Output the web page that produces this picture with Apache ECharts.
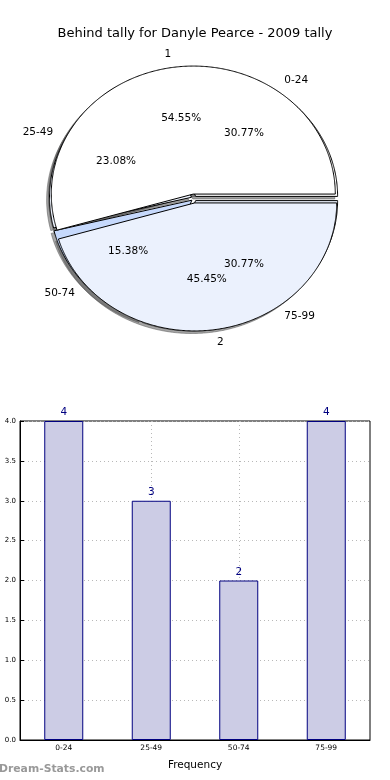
<!DOCTYPE html>
<html>
<head>
<meta charset="utf-8">
<script src="https://cdn.jsdelivr.net/npm/echarts@6/dist/echarts.min.js"></script>
<style>
html,body{margin:0;padding:0;background:#fff;}
#main{width:390px;height:780px;}
</style>
</head>
<body>
<div id="main"></div>
<script>
// ---- data ----
const titleText = 'Behind tally for Danyle Pearce - 2009 tally';
const outerCategories = ['0-24', '25-49', '50-74', '75-99'];
const outerValues = [4, 3, 2, 4];
const innerCategories = ['1', '2'];
const innerValues = [6, 5];
const barCategories = ['0-24', '25-49', '50-74', '75-99'];
const barValues = [4, 3, 2, 4];
const yTickMin = 0, yTickMax = 4, yTickStep = 0.5;
const xAxisTitle = 'Frequency';
const watermark = 'Dream-Stats.com';

// ---- styles ----
const outerColors = ['#ffffff', '#eef3fd', '#c6d9fc', '#eaf0fc'];
const innerColors = ['#ffffff', '#ebf1fd'];
const outerExplode = 0.02;
const innerExplode = 0.035;
const FONT = "'DejaVu Sans', sans-serif";

function sliceGeom(values, i, explode) {
  const total = values.reduce((a, b) => a + b, 0);
  let acc = 0;
  for (let k = 0; k < i; k++) acc += values[k];
  const t1 = acc / total * 2 * Math.PI;
  const t2 = (acc + values[i]) / total * 2 * Math.PI;
  const tm = (t1 + t2) / 2;
  return { t1, t2, tm, cx: explode * Math.cos(tm), cy: explode * Math.sin(tm), pct: values[i] / total * 100 };
}
function wedgePoints(api, g, dx, dy) {
  const pts = [api.coord([g.cx + dx, g.cy + dy])];
  const n = Math.max(2, Math.ceil((g.t2 - g.t1) / (Math.PI / 360)));
  for (let k = 0; k <= n; k++) {
    const t = g.t1 + (g.t2 - g.t1) * k / n;
    pts.push(api.coord([g.cx + dx + Math.cos(t), g.cy + dy + Math.sin(t)]));
  }
  return pts;
}

function pieLayer(values, labels, colors, explode, layer, z) {
  return {
    type: 'custom',
    xAxisIndex: 0, yAxisIndex: 0,
    z: z,
    silent: true,
    clip: false,
    animation: false,
    data: values.map((v, i) => [i, v]),
    encode: { x: 0, y: 1 },
    renderItem: function (params, api) {
      const i = params.dataIndex;
      const g = sliceGeom(values, i, explode);
      if (layer === 'shadow') {
        return {
          type: 'polygon',
          shape: { points: wedgePoints(api, g, -0.02, -0.02) },
          style: { fill: 'rgba(77,77,77,0.5)', stroke: 'rgba(77,77,77,0.5)', lineWidth: 1 }
        };
      }
      if (layer === 'wedge') {
        return {
          type: 'polygon',
          shape: { points: wedgePoints(api, g, 0, 0) },
          style: { fill: colors[i], stroke: '#000', lineWidth: 1, lineJoin: 'miter' }
        };
      }
      // labels
      const lx = g.cx + 1.1 * Math.cos(g.tm);
      const ly = g.cy + 1.1 * Math.sin(g.tm);
      const lp = api.coord([lx, ly]);
      const px = g.cx + 0.6 * Math.cos(g.tm);
      const py = g.cy + 0.6 * Math.sin(g.tm);
      const pp = api.coord([px, py]);
      return {
        type: 'group',
        children: [
          { type: 'text', x: lp[0], y: lp[1],
            style: { text: labels[i], fill: '#000', fontSize: 10.5, fontFamily: FONT,
                     align: lx > 0 ? 'left' : 'right', verticalAlign: 'middle' } },
          { type: 'text', x: pp[0], y: pp[1],
            style: { text: g.pct.toFixed(2) + '%', fill: '#000', fontSize: 10.5, fontFamily: FONT,
                     align: 'center', verticalAlign: 'middle' } }
        ]
      };
    }
  };
}

const chart = echarts.init(document.getElementById('main'), null, { renderer: 'canvas' });
chart.setOption({
  animation: false,
  backgroundColor: '#fff',
  title: {
    text: titleText, left: 'center', top: 22,
    textStyle: { fontSize: 13, fontWeight: 'normal', fontFamily: FONT, color: '#000' }
  },
  graphic: [{
    type: 'text', left: -1, top: 764,
    style: { text: watermark, fill: '#999', font: "bold 10.8px 'DejaVu Sans', sans-serif" }
  }],
  grid: [
    { left: 52, top: 70.5, width: 284, height: 256, show: false },
    { left: 20, top: 421, width: 350, height: 319, show: true, borderColor: '#000', borderWidth: 1, backgroundColor: 'transparent' }
  ],
  xAxis: [
    { type: 'value', gridIndex: 0, min: -1, max: 1, show: false },
    { type: 'category', gridIndex: 1, data: barCategories,
      axisLine: { lineStyle: { color: '#000' } },
      axisTick: { alignWithLabel: true, inside: true, length: 4, lineStyle: { color: '#000' } },
      axisLabel: { fontSize: 7.5, color: '#000', fontFamily: FONT, margin: 4 },
      splitLine: { show: true, alignWithLabel: true, lineStyle: { color: '#b8b8b8', type: [1, 3], width: 1 } },
      name: xAxisTitle, nameLocation: 'middle', nameGap: 20,
      nameTextStyle: { fontSize: 10.5, color: '#000', fontFamily: FONT }
    }
  ],
  yAxis: [
    { type: 'value', gridIndex: 0, min: -1, max: 1, show: false },
    { type: 'value', gridIndex: 1, min: yTickMin, max: yTickMax, interval: yTickStep,
      axisLine: { show: true, lineStyle: { color: '#000' } },
      axisTick: { show: true, inside: true, length: 4, lineStyle: { color: '#000' } },
      axisLabel: { fontSize: 7, color: '#000', fontFamily: FONT, margin: 4, formatter: v => v.toFixed(1) },
      splitLine: { show: true, lineStyle: { color: '#b8b8b8', type: [1, 3], width: 1 } }
    }
  ],
  series: [
    pieLayer(outerValues, outerCategories, outerColors, outerExplode, 'shadow', 1),
    pieLayer(innerValues, innerCategories, innerColors, innerExplode, 'shadow', 1),
    pieLayer(outerValues, outerCategories, outerColors, outerExplode, 'wedge', 2),
    pieLayer(innerValues, innerCategories, innerColors, innerExplode, 'wedge', 3),
    pieLayer(outerValues, outerCategories, outerColors, outerExplode, 'label', 4),
    pieLayer(innerValues, innerCategories, innerColors, innerExplode, 'label', 4),
    {
      type: 'bar', xAxisIndex: 1, yAxisIndex: 1,
      data: barValues, barWidth: 39,
      itemStyle: { color: '#cccce5', borderColor: '#000080', borderWidth: 1 },
      label: { show: true, position: 'top', distance: 3, color: '#000080', fontSize: 10.5, fontFamily: FONT },
      z: 3
    }
  ]
});
</script>
</body>
</html>
